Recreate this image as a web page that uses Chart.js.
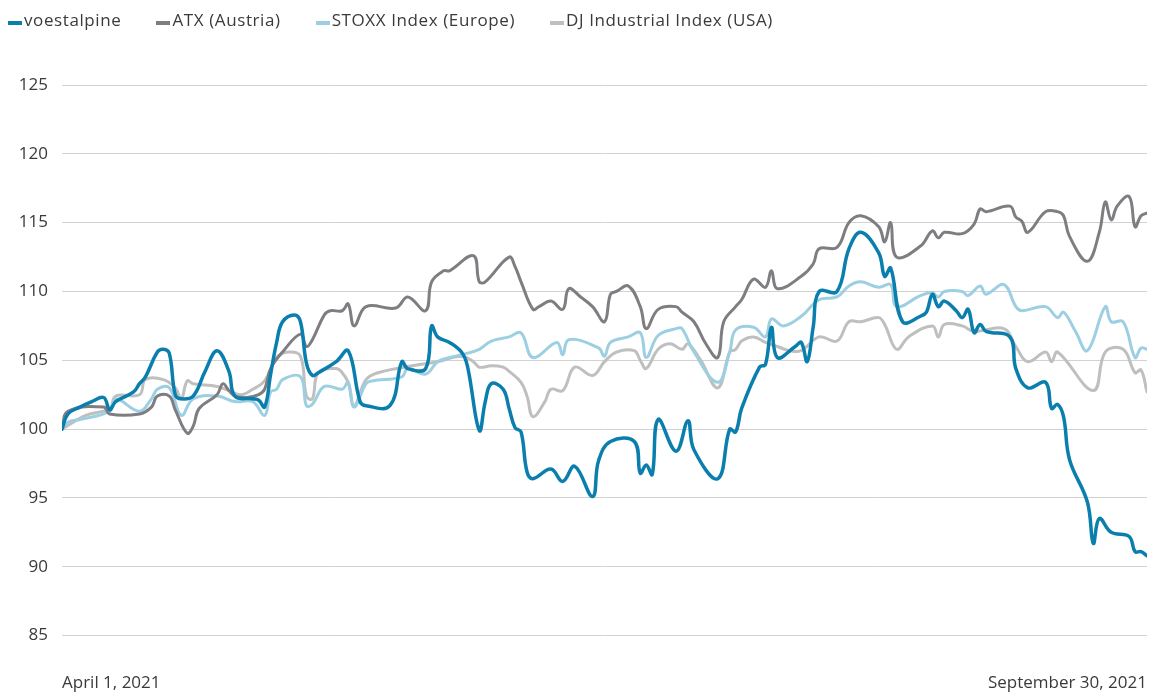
<!DOCTYPE html>
<html>
<head>
<meta charset="utf-8">
<script src="https://cdn.jsdelivr.net/npm/chart.js@4.4.1/dist/chart.umd.min.js"></script>
<style>
  html, body { margin: 0; padding: 0; background: #fff; }
  #wrap { position: relative; width: 1149px; height: 695px; }
  #legend { position: absolute; left: 8px; top: 8px; display: flex; font: 17px 'Open Sans', sans-serif; letter-spacing: 0.6px; color: #3a3a3a; }
  #legend .item { display: flex; align-items: center; margin-right: 35px; }
  #legend .box { width: 14px; height: 4px; margin-right: 2px; margin-top: 6px; }
  canvas { display: block; }
</style>
</head>
<body>
<div id="wrap">
  <div id="legend"></div>
  <canvas id="myChart" width="1149" height="695"></canvas>
</div>
<script>
// days since April 1, 2021 (0 = April 1, 182 = September 30), index 100 = start
const xTickLabels = ['April 1, 2021', 'September 30, 2021'];
const seriesNames = ['voestalpine', 'ATX (Austria)', 'STOXX Index (Europe)', 'DJ Industrial Index (USA)'];
const seriesColors = ['#0a7fad', '#7e7e82', '#9ccfe2', '#bfbfbf'];

const voestDays = [0,1,3,5,7,8,9,12,13,14,
  16,17,18,19,20,22,24,26,28,29,
  32,33,34,35,36,37,39,40,41,42,
  43,46,48,50,51,55,57,58,61,62,
  63,65,67,68,70,71,72,74,75,76,
  77,78,79,82,84,86,89,90,92,96,
  97,98,99,100,103,105,106,110,112,113,
  114,117,118,119,120,123,124,125,126,127,
  130,132,134,137,138,139,141,144,145,146,
  147,148,150,151,152,153,154,155,159,160,
  162,165,166,167,168,169,172,173,174,176,
  179,180,181,182];
const voestValues = [100,101.1,101.6,102.0,102.3,101.4,102.0,102.7,103.3,103.8,
  105.6,105.8,105.5,102.5,102.2,102.4,104.2,105.7,104.2,102.4,
  102.2,102.1,101.6,104.0,106.3,107.8,108.3,107.8,104.8,103.9,
  104.1,104.9,105.7,102.0,101.7,101.7,104.9,104.4,104.4,107.5,
  106.7,106.3,105.6,104.6,99.9,102.0,103.3,102.9,101.5,100.1,
  99.8,96.9,96.4,97.1,96.2,97.3,95.1,97.7,99.1,99.1,
  96.8,97.4,96.7,100.7,98.4,100.6,98.5,96.4,100.0,99.8,
  101.5,104.5,104.7,107.4,105.2,106.0,106.3,104.9,107.4,110.0,
  110.0,113.1,114.3,112.8,111.1,111.7,107.8,108.2,108.5,109.8,
  108.9,109.3,108.6,108.1,108.7,107.0,107.6,107.1,106.7,104.4,
  103.0,103.4,101.5,101.8,100.9,97.8,94.7,91.7,93.5,92.5,
  92.2,91.1,91.1,90.8];

const atxDays = [0,1,7,8,13,15,16,18,19,21,
  22,23,26,27,28,29,31,33,34,35,
  37,40,41,42,44,45,47,48,49,51,
  56,58,61,62,64,65,69,70,71,75,
  76,77,79,80,82,84,85,87,89,91,
  92,93,95,97,98,100,103,104,106,108,
  110,111,113,114,116,118,119,120,124,126,
  127,130,132,134,137,138,139,140,144,146,
  147,148,151,153,154,155,159,160,161,162,
  165,167,168,169,172,174,175,176,177,179,
  180,181,182];
const atxValues = [100,101.3,101.6,101.1,101.1,101.6,102.4,102.4,101.4,99.7,
  100.2,101.5,102.5,103.3,102.8,102.4,102.3,102.5,102.9,104.4,
  105.6,106.9,106.0,106.5,108.3,108.6,108.6,109.1,107.5,108.9,
  108.8,109.6,108.6,110.7,111.5,111.5,112.6,110.7,110.7,112.5,
  111.8,110.7,108.7,108.9,109.3,108.7,110.2,109.6,108.9,107.8,
  109.8,110.0,110.4,108.9,107.3,108.7,108.9,108.5,107.8,106.2,
  105.2,107.8,108.9,109.4,110.9,110.3,111.5,110.2,111.1,112.0,
  113.1,113.2,115.0,115.5,114.7,113.6,115.0,112.5,113.3,114.4,
  113.9,114.3,114.2,114.9,116.0,115.8,116.2,115.4,115.1,114.3,
  115.8,115.8,115.5,114.0,112.2,114.3,116.5,115.2,116.2,116.9,
  114.7,115.5,115.7];

const stoxxDays = [0,1,3,8,9,13,15,16,18,20,
  22,26,29,32,34,35,36,37,40,41,
  42,44,47,48,49,51,52,57,58,61,
  63,65,67,70,72,75,77,79,83,84,
  85,90,91,92,95,97,98,100,103,104,
  106,110,112,113,116,118,119,121,124,127,
  130,132,134,137,139,140,144,146,147,148,
  151,152,154,155,158,160,161,165,167,168,
  170,172,175,176,178,180,181,182];
const stoxxValues = [100,100.5,100.7,101.3,102.2,101.3,102.2,102.9,103.0,101.0,
  102.2,102.4,102.0,102.0,101.0,102.7,102.9,103.6,103.8,101.7,
  101.8,103.1,102.9,103.4,101.6,103.3,103.5,103.8,104.4,104.0,
  104.9,105.2,105.4,105.8,106.4,106.7,107.0,105.2,106.3,105.4,
  106.5,105.9,105.3,106.3,106.7,107.0,105.2,106.8,107.3,107.3,
  105.6,103.4,105.6,107.2,107.4,106.7,108.0,107.5,108.2,109.4,
  109.6,110.4,110.7,110.3,110.5,108.9,109.7,109.9,109.6,110.0,
  110.0,109.7,110.4,109.8,110.5,108.9,108.6,108.9,108.1,108.5,
  107.1,105.7,108.9,107.8,107.8,105.2,105.9,105.8];

const djDays = [0,4,8,9,13,14,17,19,20,21,
  22,26,28,30,32,34,36,38,40,41,
  42,43,46,47,48,49,51,53,60,63,
  67,69,70,72,74,75,77,78,79,81,
  82,84,86,89,91,93,96,97,98,100,
  102,104,105,107,110,112,113,114,116,118,
  120,122,124,127,130,132,134,137,138,140,
  142,146,147,148,151,153,158,160,162,165,
  166,167,173,175,178,180,181,182];
const djValues = [100,101.0,101.5,102.4,102.5,103.6,103.6,103.0,102.2,103.5,
  103.3,103.1,102.8,102.5,102.9,103.5,105.2,105.6,105.3,102.4,
  102.2,104.1,104.4,104.1,103.4,101.7,103.6,104.1,104.7,104.9,
  105.3,104.9,104.5,104.6,104.5,104.2,103.4,102.4,100.9,102.0,
  102.9,102.8,104.5,103.9,104.9,105.6,105.7,105.0,104.4,105.8,
  106.2,105.8,106.2,105.1,103.0,105.6,105.8,106.4,106.7,106.3,
  106.0,105.7,105.7,106.7,106.4,107.8,107.8,108.1,107.6,105.8,
  106.7,107.5,106.7,107.6,107.5,107.1,107.3,106.0,104.9,105.6,
  104.9,105.6,102.8,105.6,105.8,104.1,104.3,102.7];

const allDays = [voestDays, atxDays, stoxxDays, djDays];
const allValues = [voestValues, atxValues, stoxxValues, djValues];
const lineWidths = [3.5, 3, 3, 3];

const fontFamily = "'Open Sans', sans-serif";

function buildLegend() {
  const legend = document.getElementById('legend');
  seriesNames.forEach((name, i) => {
    const item = document.createElement('div');
    item.className = 'item';
    const box = document.createElement('span');
    box.className = 'box';
    box.style.background = seriesColors[i];
    const label = document.createElement('span');
    label.textContent = name;
    item.appendChild(box);
    item.appendChild(label);
    legend.appendChild(item);
  });
}

function createChart() {
  const datasets = seriesNames.map((name, i) => ({
    label: name,
    data: allDays[i].map((d, j) => ({ x: d, y: allValues[i][j] })),
    borderColor: seriesColors[i],
    backgroundColor: seriesColors[i],
    borderWidth: lineWidths[i],
    tension: 0.4,
    pointRadius: 0,
    borderCapStyle: 'round',
    borderJoinStyle: 'round',
    fill: false
  }));

  const ctx = document.getElementById('myChart').getContext('2d');
  new Chart(ctx, {
    type: 'line',
    data: { datasets: datasets },
    options: {
      responsive: false,
      animation: false,
      layout: { padding: { top: 85, right: 0, left: 0, bottom: 0 } },
      plugins: {
        legend: { display: false },
        tooltip: { enabled: false }
      },
      scales: {
        x: {
          type: 'linear',
          min: 0,
          max: 182,
          // transparent tick marks only push the date labels down
          grid: { display: true, drawOnChartArea: false, drawTicks: true, tickLength: 35, color: 'rgba(0,0,0,0)' },
          border: { display: false },
          afterBuildTicks: scale => {
            scale.ticks = [{ value: 0 }, { value: 182 }];
          },
          ticks: {
            align: 'inner',
            autoSkip: false,
            maxRotation: 0,
            padding: 2,
            color: '#3a3a3a',
            font: { family: fontFamily, size: 17 },
            callback: (value, index) => xTickLabels[index]
          }
        },
        y: {
          min: 85,
          max: 125,
          grid: { color: '#d2d2d2', lineWidth: 1, drawTicks: false },
          border: { display: false },
          afterFit: scale => { scale.width = 62; },
          ticks: {
            stepSize: 5,
            padding: 14,
            color: '#3a3a3a',
            font: { family: fontFamily, size: 17 }
          }
        }
      }
    }
  });
}

document.addEventListener('DOMContentLoaded', () => {
  buildLegend();
  createChart();
});
</script>
</body>
</html>
